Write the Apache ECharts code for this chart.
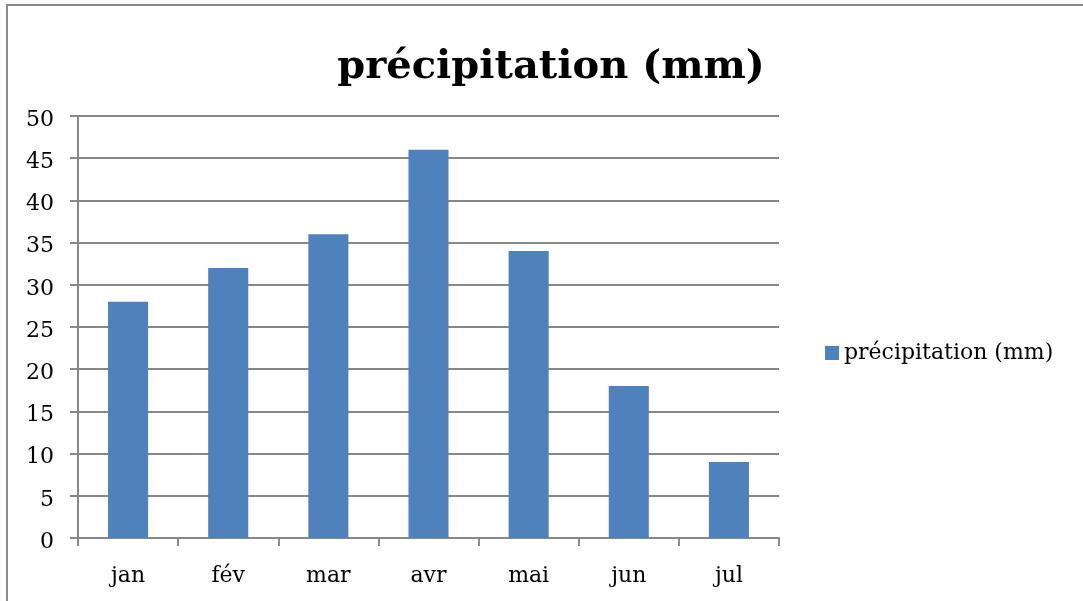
<!DOCTYPE html>
<html><head><meta charset="utf-8">
<script src="https://cdn.jsdelivr.net/npm/echarts@6/dist/echarts.min.js"></script>
<style>html,body{margin:0;padding:0;background:#fff}#c{width:1083px;height:601px}</style>
</head><body><div id="c"></div>
<script>
const categories = ['jan','fév','mar','avr','mai','jun','jul'];
const values = [28, 32, 36, 46, 34, 18, 9];
const seriesName = 'précipitation (mm)';
const titleText = 'précipitation (mm)';
const FONT = 'DejaVu Serif';
const chart = echarts.init(document.getElementById('c'), null, {renderer:'canvas'});
chart.setOption({
  animation:false,
  backgroundColor:'#fff',
  title:{text:titleText,left:546,top:43,textAlign:'center',
    textStyle:{fontFamily:FONT,fontWeight:'bold',fontSize:40,color:'#000'}},
  legend:{data:[seriesName],left:820,top:337,itemWidth:14,itemHeight:14,icon:'rect',itemGap:5,
    textStyle:{fontFamily:FONT,fontSize:22,color:'#000'}},
  grid:{left:78,right:304,top:116,bottom:63,containLabel:false},
  xAxis:{type:'category',data:categories,
    axisLine:{lineStyle:{color:'#888',width:2}},
    axisTick:{show:true,length:8,alignWithLabel:false,lineStyle:{color:'#888',width:2}},
    axisLabel:{fontFamily:FONT,fontSize:22,color:'#000',margin:27},
    splitLine:{show:false}},
  yAxis:{type:'value',min:0,max:50,interval:5,
    axisLine:{show:true,lineStyle:{color:'#888',width:2}},
    axisTick:{show:true,length:8,lineStyle:{color:'#888',width:2}},
    axisLabel:{fontFamily:FONT,fontSize:22,color:'#000',margin:24,
      formatter:'{a|{value}}',rich:{a:{fontFamily:FONT,fontSize:22,color:'#000',padding:[8,0,0,0]}}},
    splitLine:{show:true,lineStyle:{color:'#888',width:2}}},
  series:[{name:seriesName,type:'bar',data:values,barWidth:'40%',
    itemStyle:{color:'#4F81BD'}}],
  graphic:[{type:'rect',shape:{x:7,y:5,width:1100,height:620},
    style:{fill:null,stroke:'#8c8c8c',lineWidth:2},silent:true}]
});
</script></body></html>
